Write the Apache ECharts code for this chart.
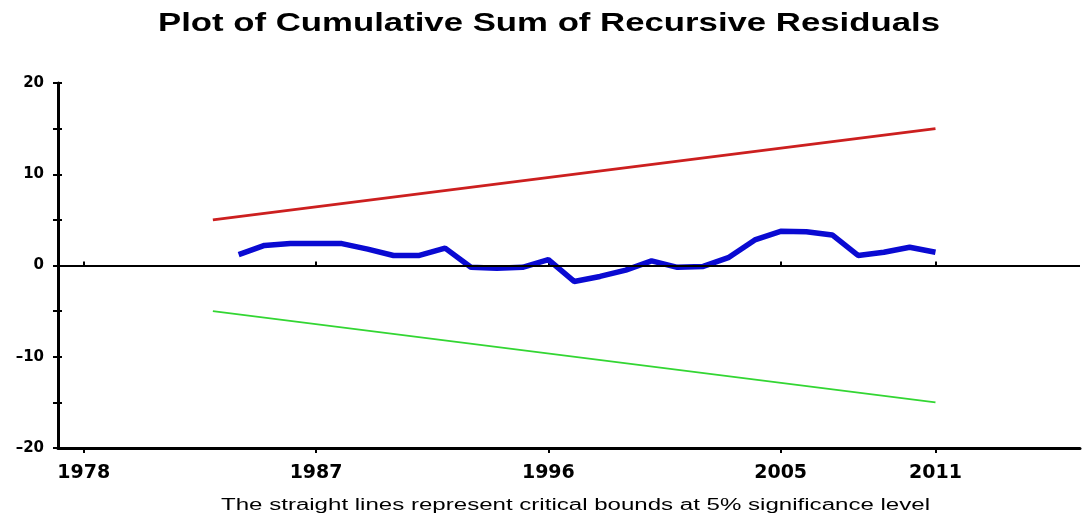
<!DOCTYPE html>
<html>
<head>
<meta charset="utf-8">
<script src="https://cdn.jsdelivr.net/npm/echarts@6/dist/echarts.min.js"></script>
<style>
  html, body { margin: 0; padding: 0; background: #fff; }
  #chart { width: 1084px; height: 516px; }
</style>
</head>
<body>
<div id="chart"></div>
<script>
// years shown on the x axis
const xTickYears = [1978, 1987, 1996, 2005, 2011];

// cusum of recursive residuals, 1984..2011
const cusumYears = [1984, 1985, 1986, 1987, 1988, 1989, 1990, 1991, 1992, 1993, 1994, 1995, 1996, 1997,
    1998, 1999, 2000, 2001, 2002, 2003, 2004, 2005, 2006, 2007, 2008, 2009, 2010, 2011];
const cusumValues = [1.2, 2.2, 2.4, 2.4, 2.4, 1.8, 1.1, 1.1, 1.9, -0.2, -0.3, -0.2, 0.65, -1.75,
    -1.2, -0.5, 0.5, -0.2, -0.1, 0.9, 2.8, 3.75, 3.7, 3.35, 1.1, 1.45, 2.0, 1.45];

// 5% critical bounds
const boundYears = [1983, 2011];
const upperBound = [5, 15];
const lowerBound = [-5, -15];

const titleText = 'Plot of Cumulative Sum of Recursive Residuals';
const noteText = 'The straight lines represent critical bounds at 5% significance level';

const chart = echarts.init(document.getElementById('chart'));

const pairs = (xs, ys) => xs.map((x, i) => [x, ys[i]]);

// the original text is drawn wide, so stretch it to the width it takes there
const measure = document.createElement('canvas').getContext('2d');
function stretchedText(text, font, left, right, baseline) {
    measure.font = font;
    const w = measure.measureText(text).width;
    return {
        type: 'text',
        x: left,
        y: baseline,
        scaleX: (right - left) / w,
        style: { text: text, font: font, fill: '#000', textAlign: 'left', textVerticalAlign: 'bottom' },
        silent: true
    };
}

const axisLabelFont = { color: '#000', fontFamily: 'DejaVu Sans', fontWeight: 'bold' };

chart.setOption({
    backgroundColor: '#fff',
    animation: false,
    graphic: [
        stretchedText(titleText, 'bold 25px "Liberation Sans"', 158, 940, 37),
        stretchedText(noteText, '16px "Liberation Sans"', 221, 930, 514)
    ],
    grid: { left: 58, right: 4, top: 83, bottom: 68 },
    xAxis: [{
        type: 'value',
        min: 1977,
        max: 2016.6,
        splitLine: { show: false },
        axisLine: { onZero: false, lineStyle: { color: '#000', width: 3 } },
        axisTick: { customValues: xTickYears, length: 5, lineStyle: { color: '#000', width: 2 } },
        axisLabel: {
            customValues: xTickYears,
            formatter: v => String(v),
            fontSize: 19, margin: 16, ...axisLabelFont
        }
    }, {
        // copy so the ticks cross the axis
        type: 'value',
        position: 'bottom',
        min: 1977,
        max: 2016.6,
        splitLine: { show: false },
        axisLine: { show: false },
        axisTick: { customValues: xTickYears, inside: true, length: 4, lineStyle: { color: '#000', width: 2 } },
        axisLabel: { show: false }
    }],
    yAxis: [{
        type: 'value',
        min: -20,
        max: 20,
        interval: 5,
        splitLine: { show: false },
        axisLine: { onZero: false, lineStyle: { color: '#000', width: 3 } },
        axisTick: { length: 5, lineStyle: { color: '#000', width: 2 } },
        axisLabel: {
            formatter: v => (v % 10 === 0 ? String(v).replace('-', '\u2013') : ''),
            fontSize: 15, margin: 14, ...axisLabelFont
        }
    }, {
        type: 'value',
        position: 'left',
        min: -20,
        max: 20,
        interval: 5,
        splitLine: { show: false },
        axisLine: { show: false },
        axisTick: { inside: true, length: 4, lineStyle: { color: '#000', width: 2 } },
        axisLabel: { show: false }
    }],
    series: [{
        name: 'upper',
        type: 'line',
        data: pairs(boundYears, upperBound),
        symbol: 'none',
        lineStyle: { color: '#cc1f1f', width: 3 }
    }, {
        name: 'lower',
        type: 'line',
        data: pairs(boundYears, lowerBound),
        symbol: 'none',
        lineStyle: { color: '#33d633', width: 2 }
    }, {
        name: 'cusum',
        type: 'line',
        data: pairs(cusumYears, cusumValues),
        symbol: 'none',
        z: 3,
        lineStyle: { color: '#0a0ad2', width: 5.5 },
        markLine: {
            silent: true,
            symbol: 'none',
            label: { show: false },
            lineStyle: { color: '#000', width: 2, type: 'solid' },
            data: [{ yAxis: 0 }]
        }
    }]
});

window.addEventListener('resize', () => chart.resize());
</script>
</body>
</html>
